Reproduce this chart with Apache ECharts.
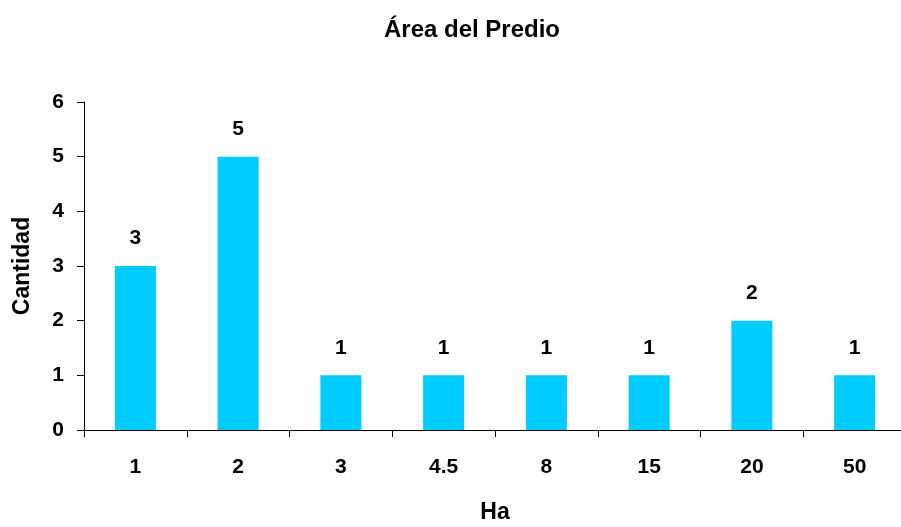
<!DOCTYPE html>
<html>
<head>
<meta charset="utf-8">
<script src="https://cdn.jsdelivr.net/npm/echarts@6/dist/echarts.min.js"></script>
<style>
  html, body { margin: 0; padding: 0; background: #fff; }
  #chart { width: 901px; height: 527px; }
</style>
</head>
<body>
<div id="chart"></div>
<script>
// Predio sizes (hectares) and how many predios fall in each
const categories = ['1', '2', '3', '4.5', '8', '15', '20', '50'];
const counts = [3, 5, 1, 1, 1, 1, 2, 1];
const yTicks = [0, 1, 2, 3, 4, 5, 6];

const font = 'Liberation Sans, Arial, sans-serif';
const chart = echarts.init(document.getElementById('chart'), null, { renderer: 'canvas' });

chart.setOption({
  backgroundColor: '#ffffff',
  animation: false,
  title: {
    text: 'Área del Predio',
    left: 467,
    top: 13,
    textAlign: 'center',
    textStyle: { fontFamily: font, fontWeight: 'bold', fontSize: 24, color: '#000' }
  },
  grid: { left: 84, top: 102, width: 822, height: 328, containLabel: false, outerBoundsMode: 'none' },
  xAxis: {
    type: 'category',
    data: categories,
    name: 'Ha',
    nameLocation: 'middle',
    nameGap: 71,
    nameTextStyle: { fontFamily: font, fontWeight: 'bold', fontSize: 23, color: '#000' },
    axisLine: { lineStyle: { color: '#000', width: 1 } },
    axisTick: { show: true, length: 7, lineStyle: { color: '#000' }, alignWithLabel: false },
    axisLabel: { fontFamily: font, fontWeight: 'bold', fontSize: 21, color: '#000', margin: 27 },
    splitLine: { show: false }
  },
  yAxis: {
    type: 'value',
    min: yTicks[0],
    max: yTicks[yTicks.length - 1],
    interval: 1,
    name: 'Cantidad',
    nameLocation: 'middle',
    nameGap: 50,
    nameRotate: 90,
    nameTextStyle: { fontFamily: font, fontWeight: 'bold', fontSize: 23, color: '#000' },
    axisLine: { show: true, lineStyle: { color: '#000', width: 1 } },
    axisTick: { show: true, length: 7, lineStyle: { color: '#000' } },
    axisLabel: { fontFamily: font, fontWeight: 'bold', fontSize: 21, color: '#000', margin: 20 },
    splitLine: { show: false }
  },
  series: [{
    type: 'bar',
    data: counts,
    barWidth: 41,
    itemStyle: { color: '#00CCFF' },
    label: {
      show: true,
      position: 'top',
      distance: 17,
      fontFamily: font,
      fontWeight: 'bold',
      fontSize: 21,
      color: '#000'
    }
  }]
});
</script>
</body>
</html>
